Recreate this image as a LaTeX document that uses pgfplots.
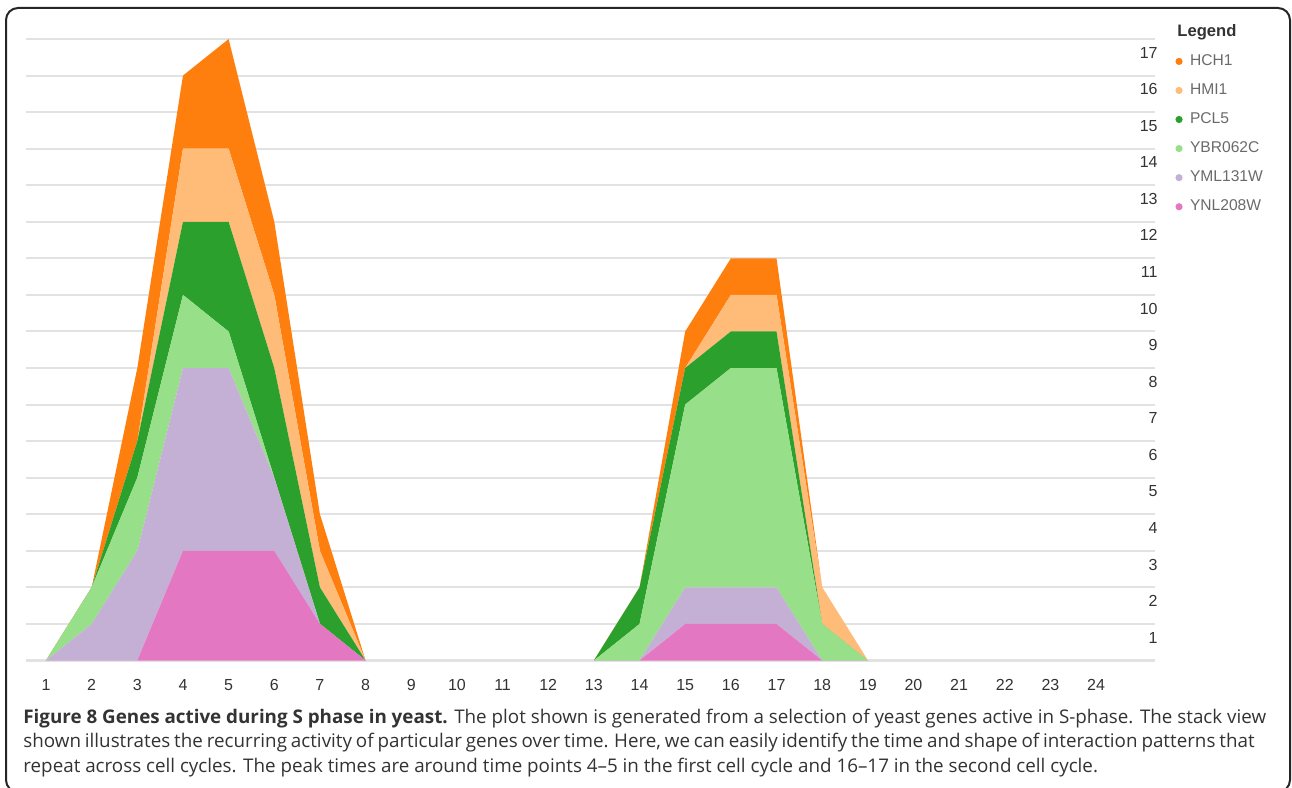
\documentclass[border=0pt]{standalone}
\usepackage{fontspec}
\setmainfont{Liberation Sans}
\newfontfamily\capfont{Open Sans}
\usepackage{pgfplots}
\pgfplotsset{compat=1.18}
\usepackage{pgfplotstable}

\definecolor{cHCH}{HTML}{FF7F0E}
\definecolor{cHMI}{HTML}{FFBB78}
\definecolor{cPCL}{HTML}{2CA02C}
\definecolor{cYBR}{HTML}{98DF8A}
\definecolor{cYML}{HTML}{C5B0D5}
\definecolor{cYNL}{HTML}{E377C2}
\definecolor{gridc}{HTML}{E2E2E2}
\definecolor{tickc}{HTML}{333333}
\definecolor{legc}{HTML}{6A6A6A}
\definecolor{capc}{HTML}{333333}

\pgfplotstableread{
x YNL YML YBR PCL HMI HCH
1 0 0 0 0 0 0
2 0 1 1 0 0 0
3 0 3 2 1 0 2
4 3 5 2 2 2 2
5 3 5 1 3 2 3
6 3 2 0 3 2 2
7 1 0 0 1 1 1
8 0 0 0 0 0 0
9 0 0 0 0 0 0
10 0 0 0 0 0 0
11 0 0 0 0 0 0
12 0 0 0 0 0 0
13 0 0 0 0 0 0
14 0 0 1 1 0 0
15 1 1 5 1 0 1
16 1 1 6 1 1 1
17 1 1 6 1 1 1
18 0 0 1 0 1 0
19 0 0 0 0 0 0
20 0 0 0 0 0 0
21 0 0 0 0 0 0
22 0 0 0 0 0 0
23 0 0 0 0 0 0
24 0 0 0 0 0 0
}\datatable

\begin{document}
\begin{tikzpicture}
\begin{axis}[
  at={(13pt,63.75pt)}, anchor=south west,
  scale only axis, width=564.5pt, height=310.75pt,
  xmin=0.562, xmax=25.29, ymin=0, ymax=17,
  stack plots=y,
  axis line style={draw=none},
  tick style={draw=none},
  major tick length=0pt,
  xtick={1,...,24},
  ytick={1,...,17},
  extra y ticks={0}, extra y tick labels={},
  ymajorgrids, extra y tick style={grid=major},
  grid style={gridc, line width=1pt},
  yticklabel pos=right,
  /pgf/number format/assume math mode=true,
  ticklabel style={font=\fontsize{8}{9.6}\selectfont, text=tickc},
  xticklabel style={anchor=base, yshift=-15.25pt},
  yticklabel style={anchor=base east, inner sep=0pt, xshift=1.5pt, yshift=-9.6pt},
  reverse legend,
  legend cell align=left,
  legend image code/.code={\fill[#1] (0pt,0pt) circle (1.8pt);},
  legend style={at={(1.0181,0.9815)}, anchor=north west, draw=none, fill=none,
    inner sep=0pt, outer sep=0pt, row sep=3.6pt, column sep=1.7pt,
    font=\fontsize{7.8}{9}\selectfont, text=legc},
]
\addplot[fill=cYNL, draw=none] table[x=x,y=YNL]{\datatable} \closedcycle;
\addlegendentry{YNL208W}
\addplot[fill=cYML, draw=none] table[x=x,y=YML]{\datatable} \closedcycle;
\addlegendentry{YML131W}
\addplot[fill=cYBR, draw=none] table[x=x,y=YBR]{\datatable} \closedcycle;
\addlegendentry{YBR062C}
\addplot[fill=cPCL, draw=none] table[x=x,y=PCL]{\datatable} \closedcycle;
\addlegendentry{PCL5}
\addplot[fill=cHMI, draw=none] table[x=x,y=HMI]{\datatable} \closedcycle;
\addlegendentry{HMI1}
\addplot[fill=cHCH, draw=none] table[x=x,y=HCH]{\datatable} \closedcycle;
\addlegendentry{HCH1}
\coordinate (g0) at (axis cs:0.562,0);
\coordinate (g1) at (axis cs:1,0);
\coordinate (g8) at (axis cs:8,0);
\coordinate (g13) at (axis cs:13,0);
\coordinate (g19) at (axis cs:19,0);
\coordinate (gE) at (axis cs:25.29,0);
\end{axis}
% baseline gridline redrawn where the stack is empty
\draw[gridc, line width=1pt] (g0) -- (g1) (g8) -- (g13) (g19) -- (gE);
\node[anchor=base west, inner sep=0pt, font=\bfseries\fontsize{8.3}{9.6}\selectfont, text=tickc] at (588.5pt,375.5pt) {Legend};
\node[anchor=base west, inner sep=0pt, align=left, text=capc,
      font=\capfont\fontsize{9.4}{12.25}\selectfont] at (11.5pt,8pt)
  {\textbf{Figure 8 Genes active during S phase in yeast.} The plot shown is generated from a selection of yeast genes active in S-phase. The stack view\\
   {\spaceskip=1.95pt plus 0.5pt minus 0.3pt shown illustrates the recurring activity of particular genes over time. Here, we can easily identify the time and shape of interaction patterns that}\\
   repeat across cell cycles. The peak times are around time points 4–5 in the first cell cycle and 16–17 in the second cell cycle.};
\draw[line width=1pt, rounded corners=6pt, black!85] (3pt,-2pt) rectangle (645pt,390pt);
\pgfresetboundingbox
\useasboundingbox (0,0) rectangle (646pt,394pt);
\end{tikzpicture}
\end{document}
